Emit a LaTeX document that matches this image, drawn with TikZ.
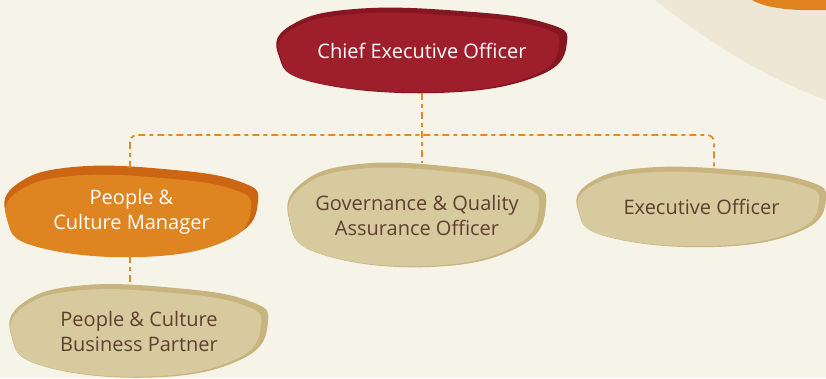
\documentclass[tikz,border=0pt]{standalone}
\usepackage{fontspec}
\setmainfont{Open Sans}
\usepackage{tikz}
\usetikzlibrary{positioning,backgrounds}
\definecolor{paper}{HTML}{F6F3E9}
\definecolor{swirl}{HTML}{EEE7D6}
\definecolor{sun}{HTML}{E0821E}
\definecolor{ceored}{HTML}{9E1F2B}
\definecolor{ceodark}{HTML}{861620}
\definecolor{mgrorange}{HTML}{DE8420}
\definecolor{mgrdark}{HTML}{CD6613}
\definecolor{sand}{HTML}{D8CA9F}
\definecolor{sanddark}{HTML}{C8B47F}
\definecolor{cocoa}{HTML}{5E3F30}
\definecolor{dashline}{HTML}{E38A25}

\begin{document}
\begin{tikzpicture}[x=1pt, y=-1pt,
    role/.style={inner sep=0pt, align=center, font=\fontsize{20}{25}\selectfont, text=cocoa},
    link/.style={dashline, line width=1.8pt, dash pattern=on 7pt off 4pt on 4pt off 4pt},
    pebble/.pic={\fill[pic actions] plot[smooth cycle, tension=0.75] coordinates
        {(-0.45,-0.98) (0.3,-0.92) (0.85,-0.65) (1.0,-0.2) (0.8,0.6) (0.1,1.0) (-0.75,0.75) (-0.99,0.1) (-0.9,-0.6)};}]
    \useasboundingbox (0,0) rectangle (826,378);
    \clip (0,0) rectangle (826,378);

    \node[role, text=white, minimum width=290, minimum height=85] (ceo) at (422,50.5) {Chief Executive Officer};
    \node[role, text=white, minimum width=253, minimum height=88] (pcm) at (131.5,212) {People \&\\Culture Manager};
    \node[role, minimum width=258, minimum height=104] (gqa) at (417,215) {Governance \& Quality\\Assurance Officer};
    \node[role, minimum width=249, minimum height=80] (eo) at (701.5,207) {Executive Officer};
    \node[role, minimum width=258, minimum height=93] (pcbp) at (139,331) {People \& Culture\\Business Partner};

    \coordinate (bus) at (422,135);
    \draw[link] (ceo.south) -- (ceo.south |- gqa.north);
    \draw[link, rounded corners=7] ([xshift=-1.5]pcm.north) -- ([xshift=-1.5]pcm.north |- bus) -- ([xshift=12.5]eo.north |- bus) -- ([xshift=12.5]eo.north);
    \draw[link] ([xshift=-1.5]pcm.south) -- ([xshift=-1.5]pcm.south |- pcbp.north);

    \begin{scope}[on background layer]
        \fill[paper] (0,0) rectangle (826,378);
        \fill[swirl] (655,0) .. controls (700,36) and (760,76) .. (826,100) -- (826,0) -- cycle;
        \fill[sun] (752,0) .. controls (768,9) and (795,11) .. (826,10) -- (826,0) -- cycle;
        \pic[fill=ceodark, xscale=145, yscale=42.5] at (ceo) {pebble};
        \pic[fill=ceored, xscale=140, yscale=39.5] at ([shift={(-3,2)}]ceo) {pebble};
        \pic[fill=mgrdark, xscale=126.5, yscale=44] at ([yshift=2]pcm) {pebble};
        \pic[fill=mgrorange, xscale=122.5, yscale=41] at ([shift={(-3,4)}]pcm) {pebble};
        \pic[fill=sanddark, xscale=129, yscale=52] at (gqa) {pebble};
        \pic[fill=sand, xscale=125, yscale=49] at ([shift={(-3,2)}]gqa) {pebble};
        \pic[fill=sanddark, xscale=124.5, yscale=40] at (eo) {pebble};
        \pic[fill=sand, xscale=120.5, yscale=37] at ([shift={(-3,2)}]eo) {pebble};
        \pic[fill=sanddark, xscale=129, yscale=46.5] at (pcbp) {pebble};
        \pic[fill=sand, xscale=125, yscale=43.5] at ([shift={(-3,2)}]pcbp) {pebble};
    \end{scope}
\end{tikzpicture}
\end{document}
